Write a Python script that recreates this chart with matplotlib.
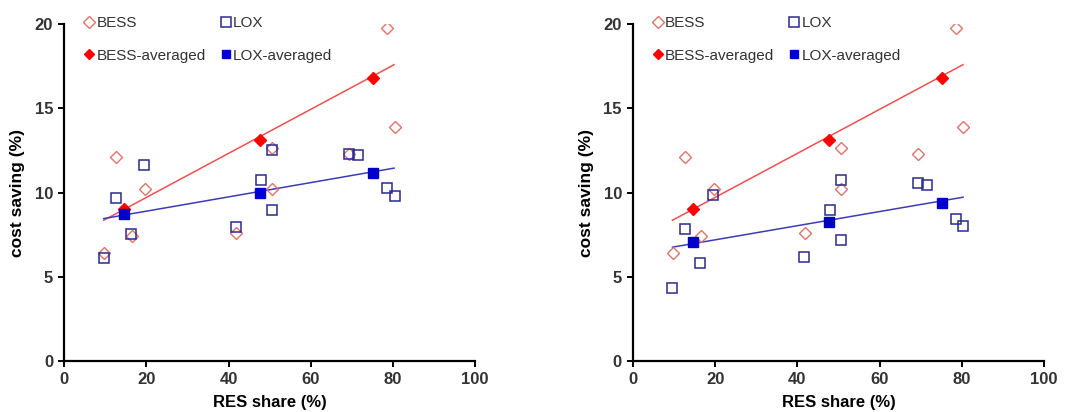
import numpy as np
import matplotlib
matplotlib.use("Agg")
import matplotlib.pyplot as plt

plt.rcParams['font.family'] = ['Liberation Sans', 'DejaVu Sans']

# individual cases (same RES shares in both panels)
res_share = [9.7, 12.7, 16.5, 19.6, 41.8, 50.6, 50.6, 69.3, 78.6, 80.4]
bess = [6.4, 12.1, 7.4, 10.2, 7.6, 12.65, 10.2, 12.3, 19.8, 13.9]

lox_x = [9.7, 12.7, 16.2, 19.4, 41.8, 48.0, 50.6, 50.6, 69.4, 71.6, 78.6, 80.4]
lox_left = [6.1, 9.65, 7.55, 11.65, 7.95, 10.75, 12.5, 8.95, 12.3, 12.25, 10.25, 9.8]
lox_right = [4.35, 7.85, 5.8, 9.85, 6.15, 8.95, 10.75, 7.15, 10.55, 10.45, 8.45, 8.0]
lox_right_x = [9.5, 12.7, 16.2, 19.4, 41.6, 47.9, 50.5, 50.5, 69.3, 71.5, 78.5, 80.3]

# averaged points
avg_x = [14.5, 47.6, 75.1]
bess_avg = [9.0, 13.15, 16.8]
lox_avg_left = [8.75, 10.0, 11.15]
lox_avg_right = [7.05, 8.25, 9.4]

# end points of trend lines
trend_x = [9.6, 80.3]
bess_trend = [8.35, 17.6]
lox_trend_left = [8.45, 11.45]
lox_trend_right = [6.75, 9.72]

c_bess_open = '#e0736b'
c_lox_open = '#2a2a8c'
c_bess_avg = '#ff0000'
c_lox_avg = '#0000cc'

fig = plt.figure(figsize=(10.68, 4.12), dpi=100)
ax1 = fig.add_axes([0.0602, 0.1245, 0.3846, 0.8165])
ax2 = fig.add_axes([0.5927, 0.1245, 0.3848, 0.8165])

panels = [(ax1, lox_x, lox_left, lox_avg_left, lox_trend_left),
          (ax2, lox_right_x, lox_right, lox_avg_right, lox_trend_right)]

for ax, lx, ly, lavg, ltr in panels:
    ax.plot(trend_x, bess_trend, color='#f05050', lw=1.1, zorder=2)
    ax.plot(trend_x, ltr, color='#3c3cb4', lw=1.1, zorder=2)
    h1, = ax.plot(res_share, bess, ls='none', marker='D', ms=6.5, mfc='none',
                  mec=c_bess_open, mew=1.0, label='BESS', zorder=3)
    h3, = ax.plot(lx, ly, ls='none', marker='s', ms=7.5, mfc='none',
                  mec=c_lox_open, mew=1.1, label='LOX', zorder=3)
    h2, = ax.plot(avg_x, bess_avg, ls='none', marker='D', ms=6, color=c_bess_avg,
                  label='BESS-averaged', zorder=4)
    h4, = ax.plot(avg_x, lavg, ls='none', marker='s', ms=6.5, color=c_lox_avg,
                  label='LOX-averaged', zorder=4)

    ax.set_xlim(0, 100)
    ax.set_ylim(0, 20)
    ax.set_xticks([0, 20, 40, 60, 80, 100])
    ax.set_yticks([0, 5, 10, 15, 20])
    for s in ['top', 'right']:
        ax.spines[s].set_visible(False)
    for s in ['left', 'bottom']:
        ax.spines[s].set_linewidth(1.6)
    ax.tick_params(direction='out', length=4, width=1.4, labelsize=12, pad=4)
    for lab in ax.get_xticklabels() + ax.get_yticklabels():
        lab.set_fontweight('bold')
        lab.set_color('#333333')
    ax.set_xlabel('RES share (%)', fontsize=12, fontweight='bold', labelpad=6)
    ax.set_ylabel('cost saving (%)', fontsize=12.5, fontweight='bold', labelpad=7)

    leg = ax.legend([h1, h2, h3, h4],
                    ['BESS', 'BESS-averaged', 'LOX', 'LOX-averaged'],
                    ncol=2, loc='upper left', bbox_to_anchor=(0.015, 1.065),
                    frameon=False, fontsize=11, handlelength=0.6,
                    handletextpad=0.2, columnspacing=1.0, labelspacing=1.2,
                    markerscale=0.9)
    for t in leg.get_texts():
        t.set_color('#333333')

fig.savefig('out.png', dpi=100)
